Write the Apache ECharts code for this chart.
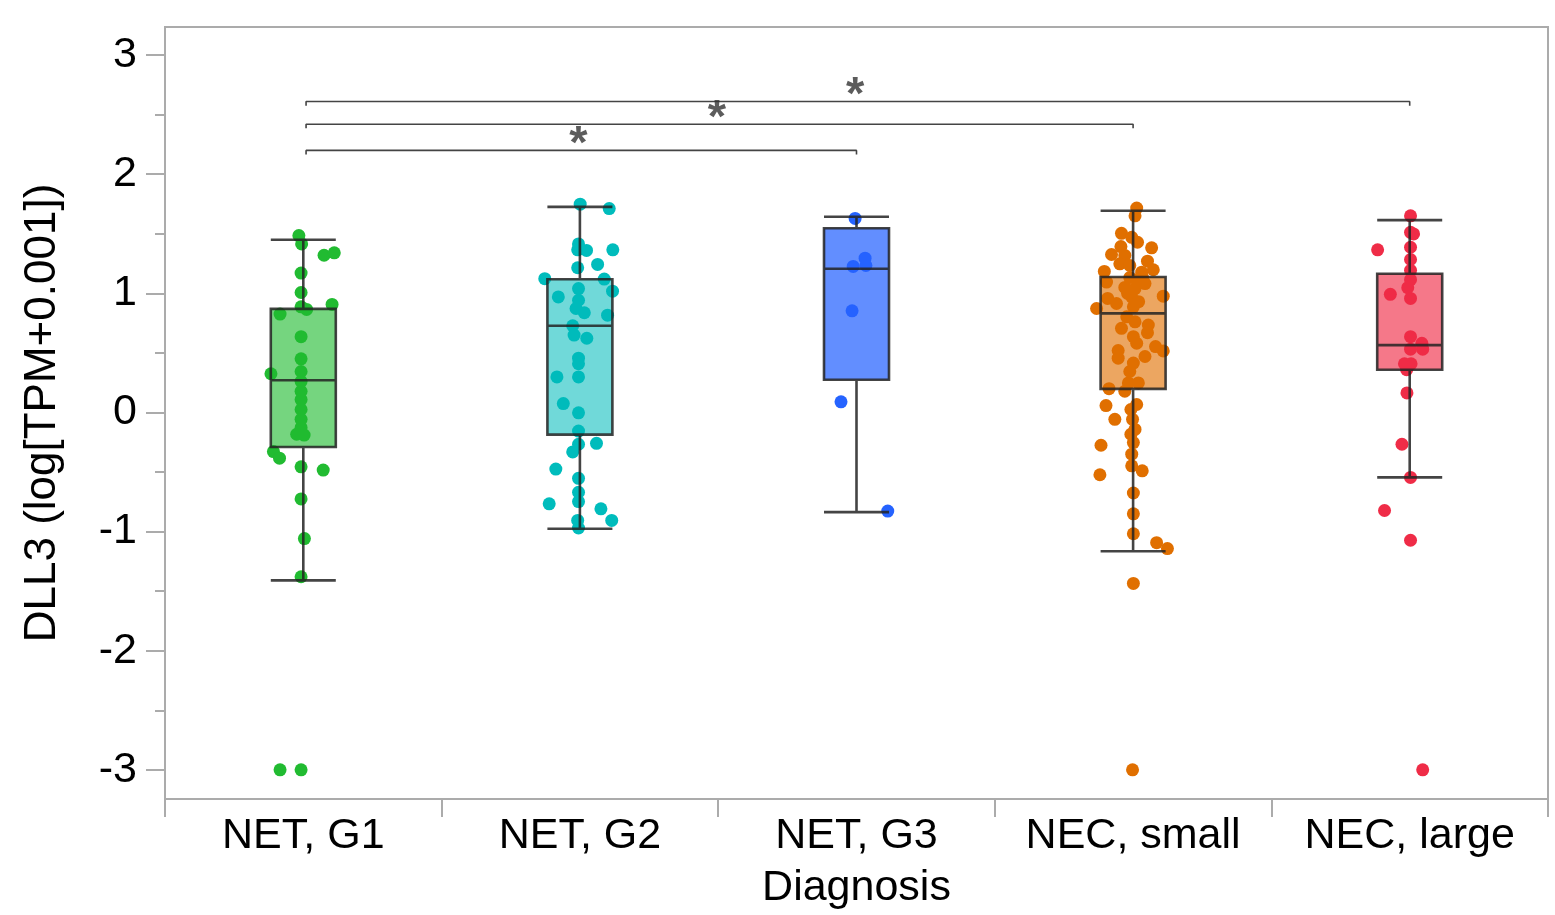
<!DOCTYPE html>
<html>
<head>
<meta charset="utf-8">
<title>DLL3 by diagnosis</title>
<style>
  html, body { margin: 0; padding: 0; background: #fff; }
  #chart { width: 1555px; height: 915px; }
</style>
<script src="https://cdn.jsdelivr.net/npm/echarts@6/dist/echarts.min.js"></script>
</head>
<body>
<div id="chart"></div>
<script>
const CATEGORIES = ["NET, G1", "NET, G2", "NET, G3", "NEC, small", "NEC, large"];

const POINT_COLORS = ["#21bb31", "#00bcbc", "#2563ff", "#e06f00", "#ef2c47"];
const BOX_FILLS = [
  "rgba(33,187,49,0.62)",
  "rgba(0,188,188,0.56)",
  "rgba(37,99,255,0.72)",
  "rgba(224,111,0,0.62)",
  "rgba(239,44,71,0.64)"
];

// [min whisker, q1, median, q3, max whisker]
const BOX_STATS = [
  [-1.41, -0.29, 0.27, 0.87, 1.45],
  [-0.976, -0.186, 0.728, 1.118, 1.726],
  [-0.837, 0.275, 1.207, 1.546, 1.643],
  [-1.165, 0.198, 0.832, 1.137, 1.693],
  [-0.545, 0.359, 0.565, 1.165, 1.615]
];

// points per group: [horizontal jitter (fraction of a category), value]
const NET_G1 = [
  [-0.016, 1.485], [-0.006, 1.415], [0.075, 1.32], [0.112, 1.34], [-0.008, 1.17],
  [-0.008, 1.007], [-0.008, 0.887], [0.012, 0.865], [0.104, 0.907], [-0.084, 0.826],
  [-0.008, 0.636], [-0.008, 0.45], [-0.117, 0.325], [-0.008, 0.344], [-0.008, 0.261],
  [-0.008, 0.178], [-0.008, 0.108], [-0.008, 0.025], [-0.008, -0.058], [-0.008, -0.128],
  [-0.024, -0.183], [0.003, -0.19], [-0.108, -0.328], [-0.086, -0.384], [-0.008, -0.456],
  [0.072, -0.484], [-0.008, -0.726], [0.004, -1.059], [-0.008, -1.379],
  [-0.084, -3], [-0.008, -3]
];

const NET_G2 = [
  [0.001, 1.749], [0.106, 1.712], [-0.005, 1.415], [-0.008, 1.365], [0.024, 1.36],
  [0.119, 1.365], [0.064, 1.243], [-0.008, 1.215], [-0.127, 1.123], [0.088, 1.12],
  [0.118, 1.018], [-0.005, 1.04], [-0.078, 0.97], [-0.005, 0.942], [-0.014, 0.873],
  [0.016, 0.837], [0.1, 0.817], [-0.026, 0.728], [-0.021, 0.65], [0.025, 0.623],
  [-0.005, 0.456], [-0.005, 0.409], [-0.083, 0.298], [-0.005, 0.298], [-0.06, 0.075],
  [-0.005, -0.003], [-0.005, -0.156], [-0.005, -0.267], [0.06, -0.259], [-0.026, -0.331],
  [-0.087, -0.475], [-0.005, -0.553], [-0.005, -0.67], [-0.005, -0.748], [-0.111, -0.767],
  [0.076, -0.809], [0.115, -0.906], [-0.008, -0.906], [-0.005, -0.97]
];

const NET_G3 = [
  [-0.005, 1.629], [0.031, 1.295], [-0.012, 1.226], [0.034, 1.234],
  [-0.016, 0.853], [-0.056, 0.089], [0.113, -0.828]
];

const NEC_SMALL = [
  [0.013, 1.716], [0.007, 1.651], [-0.042, 1.504], [-0.005, 1.47], [0.016, 1.429],
  [0.067, 1.382], [-0.044, 1.393], [-0.078, 1.326], [-0.03, 1.318], [-0.048, 1.248],
  [-0.012, 1.234], [0.052, 1.27], [0.073, 1.198], [-0.104, 1.184], [0.031, 1.178],
  [-0.012, 1.132], [-0.096, 1.095], [0.043, 1.082], [0.007, 1.04], [0.109, 0.976],
  [-0.092, 0.957], [-0.005, 0.97], [-0.06, 0.915], [-0.132, 0.873], [0.001, 0.887],
  [-0.03, 1.05], [0.02, 1.12], [0.02, 0.93], [-0.02, 1.0], [0.035, 1.13],
  [-0.023, 0.803], [0.007, 0.761], [-0.042, 0.706], [0.055, 0.734], [0.052, 0.67],
  [0.001, 0.636], [0.013, 0.581], [0.081, 0.553], [0.109, 0.517], [-0.054, 0.52],
  [-0.054, 0.456], [0.043, 0.47], [0.001, 0.415], [-0.012, 0.344], [0.019, 0.248],
  [-0.017, 0.248], [-0.087, 0.2], [-0.03, 0.178], [0.013, 0.067], [-0.098, 0.058],
  [-0.008, 0.025], [-0.066, -0.058], [-0.002, -0.058], [0.007, -0.142], [-0.008, -0.183],
  [0.001, -0.253], [-0.116, -0.275], [-0.005, -0.35], [-0.005, -0.448], [0.033, -0.49],
  [-0.12, -0.523], [0.001, -0.676], [0.001, -0.851], [0.001, -1.018], [0.085, -1.093],
  [0.124, -1.143], [0.001, -1.435], [-0.002, -3]
];

const NEC_LARGE = [
  [0.003, 1.651], [0.003, 1.512], [0.014, 1.499], [-0.116, 1.365], [0.003, 1.387],
  [0.003, 1.284], [0.003, 1.193], [0.003, 1.115], [-0.007, 1.048], [-0.07, 0.992],
  [0.003, 0.957], [0.003, 0.636], [0.044, 0.581], [0.047, 0.531], [0.003, 0.531],
  [-0.019, 0.409], [0.005, 0.409], [-0.011, 0.359], [-0.01, 0.164], [-0.028, -0.267],
  [0.003, -0.545], [-0.091, -0.823], [0.003, -1.073], [0.047, -3]
];

const GROUP_POINTS = [NET_G1, NET_G2, NET_G3, NEC_SMALL, NEC_LARGE];

const Y_MIN = -3.245;
const Y_MAX = 3.236;
const Y_MAJOR_TICKS = [-3, -2, -1, 0, 1, 2, 3];
const Y_MINOR_TICKS = [-2.5, -1.5, -0.5, 0.5, 1.5, 2.5];

// significance brackets: [from group, to group, height, label]
const COMPARISONS = [
  [0, 4, 2.61, "*"],
  [0, 3, 2.42, "*"],
  [0, 2, 2.2, "*"]
];

const FONT = "'Liberation Sans', Arial, Helvetica, sans-serif";
const AXIS_GRAY = "#ababab";

function scatterSeries() {
  return GROUP_POINTS.map((points, i) => ({
    type: "scatter",
    xAxisIndex: 1,
    yAxisIndex: 0,
    symbolSize: 13,
    z: 2,
    itemStyle: { color: POINT_COLORS[i], opacity: 1 },
    data: points.map(([jitter, value]) => [i + 0.5 + jitter, value])
  }));
}

function boxSeries() {
  return {
    type: "boxplot",
    xAxisIndex: 0,
    yAxisIndex: 0,
    boxWidth: [65, 65],
    z: 3,
    data: BOX_STATS.map((stats, i) => ({
      value: stats,
      itemStyle: {
        color: BOX_FILLS[i],
        borderColor: "rgba(35,35,35,0.85)",
        borderWidth: 2.6
      }
    }))
  };
}

function bracketSeries() {
  const drop = 0.035;
  const series = [];
  COMPARISONS.forEach(([from, to, height, text]) => {
    const x0 = from + 0.51;
    const x1 = to + 0.5;
    series.push({
      type: "line",
      xAxisIndex: 1,
      yAxisIndex: 0,
      symbol: "none",
      silent: true,
      z: 4,
      lineStyle: { color: "#444", width: 1.6 },
      data: [[x0, height - drop], [x0, height], [x1, height], [x1, height - drop]]
    });
    series.push({
      type: "scatter",
      xAxisIndex: 1,
      yAxisIndex: 0,
      symbolSize: 0,
      silent: true,
      z: 4,
      label: {
        show: true,
        position: "top",
        distance: -18,
        formatter: text,
        fontFamily: FONT,
        fontWeight: "bold",
        fontSize: 47,
        color: "#333"
      },
      data: [[(x0 + x1) / 2 - 0.01, height]]
    });
  });
  return series;
}

function buildOption() {
  return {
    animation: false,
    backgroundColor: "#fff",
    textStyle: { fontFamily: FONT },
    grid: {
      left: 165,
      right: 7,
      top: 27,
      bottom: 110,
      show: true,
      borderColor: AXIS_GRAY,
      borderWidth: 2,
      backgroundColor: "transparent"
    },
    xAxis: [
      {
        type: "category",
        data: CATEGORIES,
        boundaryGap: true,
        name: "Diagnosis",
        nameLocation: "middle",
        nameGap: 68,
        nameTextStyle: { fontFamily: FONT, fontSize: 43, color: "#000" },
        axisLine: { show: true, onZero: false, lineStyle: { color: AXIS_GRAY, width: 2 } },
        axisTick: { show: true, length: 18, lineStyle: { color: AXIS_GRAY, width: 2 } },
        axisLabel: { fontFamily: FONT, fontSize: 43, color: "#000", margin: 16, interval: 0 },
        splitLine: { show: false }
      },
      {
        type: "value",
        min: 0,
        max: CATEGORIES.length,
        show: false
      }
    ],
    yAxis: [
      {
        type: "value",
        min: Y_MIN,
        max: Y_MAX,
        name: "DLL3 (log[TPM+0.001])",
        nameLocation: "middle",
        nameGap: 100,
        nameRotate: 90,
        nameTextStyle: { fontFamily: FONT, fontSize: 44, color: "#000" },
        axisLine: { show: true, onZero: false, lineStyle: { color: AXIS_GRAY, width: 2 } },
        axisTick: {
          show: true,
          length: 19,
          customValues: Y_MAJOR_TICKS,
          lineStyle: { color: AXIS_GRAY, width: 2 }
        },
        axisLabel: {
          fontFamily: FONT,
          fontSize: 43,
          color: "#000",
          margin: 28,
          customValues: Y_MAJOR_TICKS
        },
        splitLine: { show: false }
      },
      {
        type: "value",
        min: Y_MIN,
        max: Y_MAX,
        position: "left",
        axisLine: { show: false },
        axisTick: {
          show: true,
          length: 10,
          customValues: Y_MINOR_TICKS,
          lineStyle: { color: AXIS_GRAY, width: 2 }
        },
        axisLabel: { show: false },
        splitLine: { show: false }
      }
    ],
    series: [...scatterSeries(), boxSeries(), ...bracketSeries()]
  };
}

function init() {
  const host = document.getElementById("chart");
  if (!host || !window.echarts) return;
  const chart = echarts.init(host, null, { renderer: "canvas" });
  chart.setOption(buildOption());
}

init();
</script>
</body>
</html>
